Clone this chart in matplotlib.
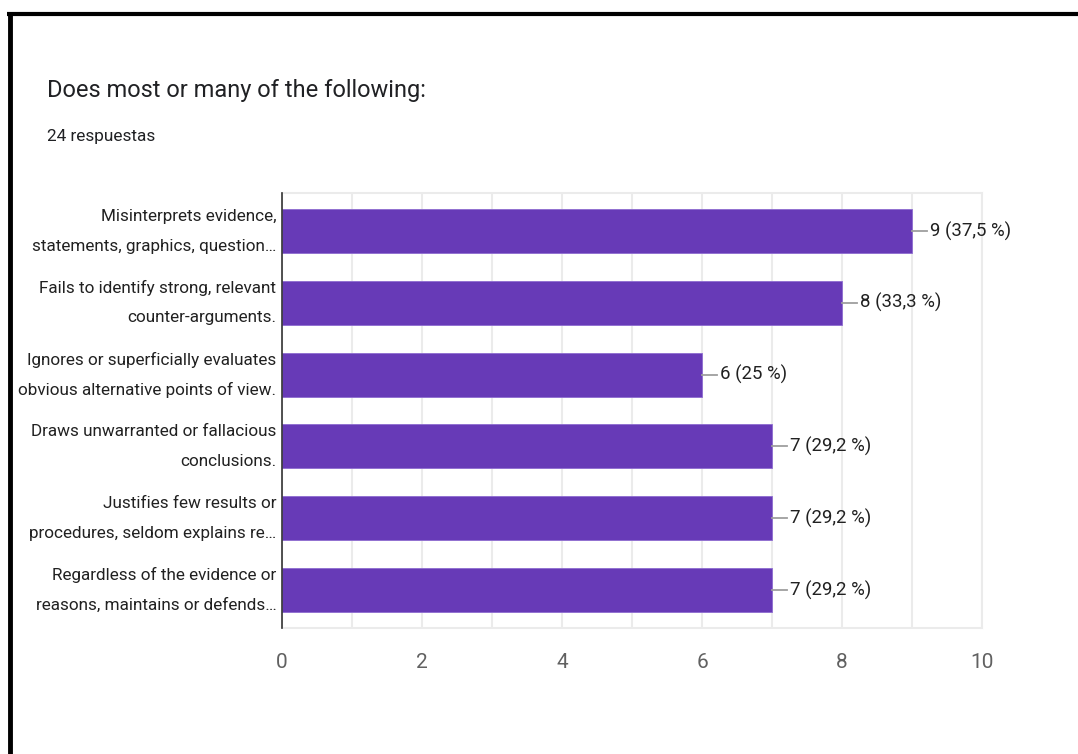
import matplotlib
matplotlib.use("Agg")
import matplotlib.pyplot as plt
from matplotlib.lines import Line2D

plt.rcParams["font.family"] = ["Roboto", "DejaVu Sans"]

TITLE = "Does most or many of the following:"
SUBTITLE = "24 respuestas"
TOTAL = 24
categories = [
    "Misinterprets evidence,\nstatements, graphics, question\u2026",
    "Fails to identify strong, relevant\ncounter-arguments.",
    "Ignores or superficially evaluates\nobvious alternative points of view.",
    "Draws unwarranted or fallacious\nconclusions.",
    "Justifies few results or\nprocedures, seldom explains re\u2026",
    "Regardless of the evidence or\nreasons, maintains or defends\u2026",
]
counts = [9, 8, 6, 7, 7, 7]
x_ticks = [0, 2, 4, 6, 8, 10]

BAR = "#673ab7"
TEXT = "#212121"
GRID = "#ebebeb"


def pct_label(n):
    p = f"{100 * n / TOTAL:.1f}".replace(".", ",")
    if p.endswith(",0"):
        p = p[:-2]
    return f"{n} ({p} %)"


def main():
    fig = plt.figure(figsize=(10.78, 7.54), dpi=100)
    ax = fig.add_axes([282 / 1078, 1 - 628 / 754, 700 / 1078, 435 / 754])

    y = list(range(len(categories)))
    ax.barh(y, counts, height=0.61, color=BAR, edgecolor="#8e6cd0", lw=0.6, zorder=3)

    for yi, n in zip(y, counts):
        ax.plot([n, n + 0.22], [yi, yi], color="#9e9e9e", lw=1.3, zorder=3)
        ax.text(n + 0.25, yi, pct_label(n), va="center", ha="left",
                fontsize=13.4, color=TEXT)

    # category labels: two lines each, right aligned against the axis
    for yi, cat in zip(y, categories):
        top, bottom = cat.split("\n")
        for line, dy in ((top, 10.8), (bottom, -10.8)):
            ax.annotate(line, xy=(0, yi), xytext=(-4, dy),
                        textcoords="offset points", ha="right", va="center",
                        fontsize=12.3, color=TEXT, annotation_clip=False)

    ax.set_xlim(0, 10)
    ax.set_ylim(len(categories) - 0.47, -0.53)
    ax.set_xticks(x_ticks)
    ax.set_xticks(range(0, 11), minor=True)
    ax.set_xticklabels([str(t) for t in x_ticks], fontsize=15, color="#616161")
    ax.set_yticks(y)
    ax.set_yticklabels([])
    ax.tick_params(axis="both", which="both", length=0)
    ax.tick_params(axis="x", pad=18)
    ax.grid(axis="x", which="both", color=GRID, lw=1.5, zorder=0)
    for side in ("top", "right", "bottom"):
        ax.spines[side].set_color(GRID)
        ax.spines[side].set_linewidth(1.5)
    ax.spines["left"].set_color("#333333")
    ax.spines["left"].set_linewidth(1.2)
    ax.spines["left"].set_zorder(4)

    fig.text(47 / 1078, 1 - 90 / 754, TITLE, fontsize=17, color="#202124",
             ha="left", va="center")
    fig.text(47 / 1078, 1 - 137 / 754, SUBTITLE, fontsize=12.4, color="#202124",
             ha="left", va="center")

    # black frame on top and left edges of the screenshot
    fig.add_artist(Line2D([9.5 / 1078, 9.5 / 1078], [0, 1 - 12 / 754],
                          transform=fig.transFigure, color="black", lw=3.5,
                          solid_capstyle="butt"))
    fig.add_artist(Line2D([7 / 1078, 1], [1 - 13.5 / 754, 1 - 13.5 / 754],
                          transform=fig.transFigure, color="black", lw=3.0,
                          solid_capstyle="butt"))

    fig.savefig("out.png", dpi=100)
    plt.close(fig)


if __name__ == "__main__":
    main()
